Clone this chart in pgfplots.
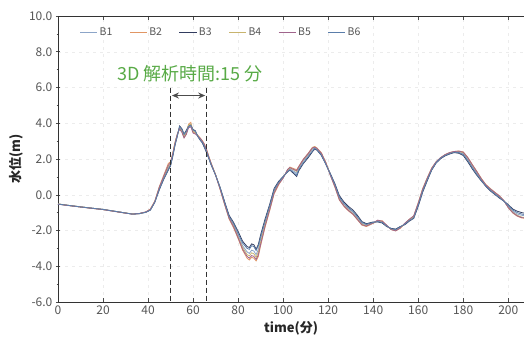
\documentclass[border=0pt]{standalone}
\usepackage{fontspec}
\setmainfont{Noto Sans CJK JP}
\usepackage{pgfplots}
\usepackage{pgfplotstable}
\usetikzlibrary{arrows.meta}
\pgfplotsset{compat=1.18}
\definecolor{cB1}{RGB}{140,165,200}
\definecolor{cB2}{RGB}{225,150,100}
\definecolor{cB3}{RGB}{50,60,95}
\definecolor{cB4}{RGB}{200,180,110}
\definecolor{cB5}{RGB}{160,100,140}
\definecolor{cB6}{RGB}{90,125,170}
\definecolor{annot}{RGB}{88,170,70}
\definecolor{tickgray}{RGB}{85,85,85}

\pgfplotstableread{
x b1 b2 b3 b4 b5 b6
0 -0.53 -0.52 -0.52 -0.51 -0.53 -0.52
5 -0.60 -0.61 -0.60 -0.60 -0.61 -0.60
10 -0.68 -0.69 -0.68 -0.67 -0.68 -0.68
15 -0.75 -0.76 -0.75 -0.75 -0.76 -0.75
20 -0.82 -0.83 -0.82 -0.82 -0.83 -0.82
25 -0.92 -0.93 -0.92 -0.92 -0.93 -0.92
30 -1.02 -1.03 -1.02 -1.02 -1.03 -1.02
33 -1.08 -1.08 -1.08 -1.07 -1.08 -1.08
36 -1.06 -1.05 -1.06 -1.06 -1.05 -1.06
39 -0.98 -0.96 -0.98 -0.97 -0.96 -0.98
41 -0.85 -0.80 -0.86 -0.83 -0.82 -0.86
43 -0.40 -0.35 -0.42 -0.38 -0.38 -0.42
45 0.35 0.45 0.28 0.40 0.42 0.30
47 0.95 1.10 0.88 1.00 1.05 0.90
49 1.50 1.75 1.38 1.55 1.65 1.42
50 1.70 1.85 1.62 1.75 1.80 1.66
51 2.25 2.35 2.15 2.30 2.30 2.20
52 2.85 2.95 2.78 2.90 2.90 2.80
53 3.35 3.40 3.28 3.35 3.38 3.30
54 3.75 3.70 3.85 3.72 3.68 3.80
55 3.60 3.55 3.70 3.58 3.50 3.66
56 3.30 3.20 3.40 3.25 3.18 3.38
57 3.50 3.40 3.60 3.45 3.38 3.55
58 3.80 3.95 3.85 3.90 3.75 3.82
59 3.85 4.05 3.88 3.95 3.80 3.90
60 3.55 3.50 3.65 3.55 3.45 3.62
61 3.50 3.45 3.58 3.48 3.40 3.55
62 3.30 3.35 3.28 3.32 3.30 3.30
63 3.12 3.20 3.08 3.15 3.18 3.10
64 2.98 3.05 2.92 3.00 3.02 2.95
65 2.75 2.85 2.65 2.80 2.82 2.70
66 2.45 2.55 2.35 2.48 2.50 2.40
67 2.08 2.15 2.02 2.10 2.12 2.05
68 1.72 1.78 1.68 1.75 1.76 1.70
70 1.10 1.12 1.10 1.12 1.10 1.10
72 0.38 0.30 0.42 0.35 0.32 0.40
74 -0.45 -0.55 -0.38 -0.50 -0.52 -0.42
76 -1.25 -1.35 -1.15 -1.30 -1.32 -1.20
78 -1.70 -1.85 -1.55 -1.75 -1.80 -1.62
80 -2.25 -2.45 -2.05 -2.35 -2.40 -2.15
82 -2.85 -3.10 -2.60 -2.95 -3.05 -2.70
84 -3.20 -3.55 -2.90 -3.35 -3.45 -3.00
85 -3.28 -3.65 -2.95 -3.42 -3.55 -3.05
86 -3.10 -3.50 -2.75 -3.25 -3.40 -2.85
87 -3.15 -3.55 -2.80 -3.30 -3.45 -2.90
88 -3.35 -3.70 -3.05 -3.50 -3.62 -3.12
89 -3.05 -3.45 -2.78 -3.20 -3.35 -2.85
90 -2.50 -2.85 -2.25 -2.65 -2.78 -2.35
92 -1.55 -1.80 -1.35 -1.65 -1.75 -1.45
94 -0.70 -0.90 -0.55 -0.80 -0.85 -0.62
96 0.22 0.05 0.35 0.15 0.10 0.28
98 0.68 0.55 0.75 0.62 0.60 0.70
100 0.98 0.95 1.02 0.95 0.92 1.00
102 1.35 1.40 1.28 1.38 1.42 1.30
103 1.45 1.55 1.38 1.50 1.52 1.40
105 1.30 1.45 1.15 1.38 1.40 1.22
106 1.20 1.40 1.02 1.30 1.35 1.08
107 1.50 1.60 1.35 1.55 1.58 1.42
109 1.90 2.00 1.75 1.95 1.98 1.80
111 2.20 2.30 2.05 2.25 2.28 2.12
113 2.55 2.65 2.40 2.60 2.62 2.45
114 2.62 2.70 2.55 2.68 2.66 2.58
115 2.55 2.62 2.50 2.58 2.60 2.52
117 2.25 2.35 2.20 2.30 2.32 2.22
119 1.72 1.80 1.70 1.78 1.78 1.70
121 1.12 1.10 1.18 1.10 1.08 1.15
123 0.52 0.42 0.62 0.48 0.45 0.58
125 -0.18 -0.30 -0.05 -0.25 -0.28 -0.12
127 -0.52 -0.65 -0.40 -0.60 -0.62 -0.48
129 -0.78 -0.90 -0.65 -0.85 -0.88 -0.72
131 -0.98 -1.10 -0.85 -1.05 -1.08 -0.92
133 -1.28 -1.40 -1.15 -1.35 -1.38 -1.22
135 -1.60 -1.70 -1.50 -1.65 -1.68 -1.55
137 -1.68 -1.78 -1.62 -1.72 -1.75 -1.65
140 -1.55 -1.60 -1.52 -1.58 -1.58 -1.55
142 -1.48 -1.45 -1.52 -1.45 -1.42 -1.50
144 -1.52 -1.45 -1.58 -1.50 -1.48 -1.55
146 -1.75 -1.72 -1.78 -1.74 -1.70 -1.75
148 -1.92 -1.95 -1.88 -1.94 -1.95 -1.90
150 -1.98 -2.02 -1.92 -2.00 -2.02 -1.95
152 -1.82 -1.88 -1.78 -1.85 -1.86 -1.80
154 -1.65 -1.62 -1.68 -1.62 -1.60 -1.65
156 -1.42 -1.38 -1.48 -1.40 -1.38 -1.45
158 -1.25 -1.20 -1.32 -1.22 -1.18 -1.30
160 -0.55 -0.45 -0.65 -0.50 -0.48 -0.60
162 0.25 0.35 0.15 0.30 0.32 0.20
164 0.85 0.95 0.78 0.90 0.92 0.82
166 1.42 1.50 1.38 1.45 1.48 1.40
168 1.82 1.85 1.78 1.84 1.85 1.80
170 2.05 2.08 2.02 2.06 2.08 2.05
172 2.22 2.25 2.18 2.24 2.25 2.20
174 2.32 2.36 2.28 2.35 2.36 2.30
176 2.40 2.42 2.36 2.40 2.42 2.38
178 2.38 2.45 2.32 2.42 2.44 2.36
180 2.30 2.40 2.20 2.35 2.38 2.25
182 1.98 2.10 1.85 2.05 2.08 1.92
184 1.58 1.70 1.45 1.65 1.68 1.52
186 1.22 1.32 1.10 1.28 1.30 1.15
188 0.85 0.92 0.78 0.90 0.90 0.80
190 0.52 0.58 0.48 0.55 0.56 0.50
192 0.28 0.35 0.22 0.32 0.33 0.25
194 0.08 0.15 0.02 0.12 0.13 0.05
196 -0.12 -0.05 -0.18 -0.08 -0.06 -0.15
198 -0.35 -0.32 -0.35 -0.33 -0.32 -0.35
200 -0.65 -0.72 -0.55 -0.70 -0.72 -0.60
202 -0.92 -1.02 -0.80 -0.98 -1.00 -0.85
204 -1.08 -1.20 -0.92 -1.15 -1.18 -1.00
206 -1.15 -1.30 -1.00 -1.25 -1.28 -1.08
208 -1.18 -1.32 -1.05 -1.28 -1.30 -1.12
}\wave

\begin{document}
\begin{tikzpicture}
\begin{axis}[
  scale only axis, width=466pt, height=286pt,
  xmin=0, xmax=207, ymin=-6, ymax=10,
  xtick={0,20,...,200}, ytick={-6,-4,...,10},
  minor y tick num=1,
  axis x line=box, axis y line=left,
  axis line style={-, draw=black!80, line width=0.9pt},
  tick style={draw=black!70, line width=0.5pt},
  grid=major, major grid style={draw=gray!15, dash pattern=on 3pt off 4pt},
  /pgf/number format/assume math mode=true,
  yticklabel style={/pgf/number format/.cd, fixed, fixed zerofill, precision=1},
  ticklabel style={font=\fontsize{12}{13}\selectfont, text=tickgray},
  xlabel={\textbf{time(分)}}, ylabel={\textbf{水位(m)}},
  label style={font=\fontsize{13}{14}\selectfont, text=black!85},
  xlabel style={yshift=0pt},
  ylabel style={yshift=-1pt},
  legend columns=6,
  legend style={at={(rel axis cs:0.04,0.975)}, anchor=north west, draw=none, fill=none,
    font=\fontsize{10.5}{12}\selectfont, text=tickgray,
    /tikz/every even column/.append style={column sep=15pt}},
  legend image post style={line width=0.8pt},
  every axis plot/.append style={line width=0.8pt, no marks},
]
\addplot[cB1] table[x=x, y=b1] {\wave};
\addplot[cB2] table[x=x, y=b2] {\wave};
\addplot[cB3] table[x=x, y=b3] {\wave};
\addplot[cB4] table[x=x, y=b4] {\wave};
\addplot[cB5] table[x=x, y=b5] {\wave};
\addplot[cB6] table[x=x, y=b6] {\wave};
\legend{B1,B2,B3,B4,B5,B6}
\draw[black!80, line width=1.3pt, dash pattern=on 5pt off 3pt] (axis cs:50,6) -- (axis cs:50,-6);
\draw[black!80, line width=1.3pt, dash pattern=on 5pt off 3pt] (axis cs:66,6) -- (axis cs:66,-6);
\draw[{Stealth[length=7pt,width=6pt]}-{Stealth[length=7pt,width=6pt]}, line width=1.8pt, black!70] (axis cs:50.6,5.55) -- (axis cs:65.4,5.55);
\node[text=annot, font=\fontsize{18}{20}\selectfont] at (axis cs:58.7,6.75) {3D 解析時間:15 分};
\coordinate (O) at (rel axis cs:0,0);
\coordinate (NE) at (rel axis cs:1,1);
\end{axis}
\pgfresetboundingbox
\path[use as bounding box] ([xshift=-58pt,yshift=-38pt]O) rectangle ([yshift=16pt]NE);
\end{tikzpicture}
\end{document}
